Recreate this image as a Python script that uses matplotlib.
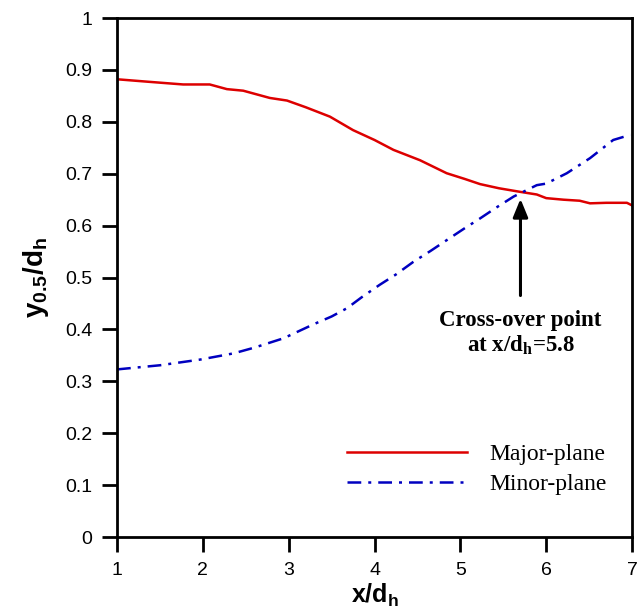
import matplotlib
matplotlib.use("Agg")
import matplotlib.pyplot as plt

major_x = [1.0, 1.38, 1.77, 2.08, 2.28, 2.47, 2.78, 2.98, 3.2, 3.48, 3.75, 4.0, 4.22,
           4.53, 4.84, 5.05, 5.23, 5.45, 5.70, 5.89, 6.0, 6.2, 6.39, 6.51, 6.7, 6.94, 7.0]
major_y = [0.882, 0.877, 0.872, 0.872, 0.863, 0.860, 0.846, 0.841, 0.828, 0.810, 0.784, 0.765, 0.746,
           0.726, 0.701, 0.690, 0.680, 0.672, 0.665, 0.660, 0.653, 0.650, 0.648, 0.643, 0.644, 0.644, 0.639]

minor_x = [1.0, 1.50, 1.97, 2.36, 2.6, 2.94, 3.29, 3.50, 3.68, 3.85, 4.06, 4.25, 4.45, 4.65,
           4.84, 5.05, 5.23, 5.42, 5.62, 5.73, 5.89, 6.0, 6.24, 6.51, 6.78, 6.98]
minor_y = [0.323, 0.331, 0.342, 0.354, 0.365, 0.383, 0.410, 0.425, 0.441, 0.462, 0.486, 0.506, 0.530, 0.551,
           0.572, 0.595, 0.614, 0.635, 0.656, 0.665, 0.678, 0.681, 0.701, 0.730, 0.765, 0.775]

x_ticks = [1, 2, 3, 4, 5, 6, 7]
y_ticks = [0, 0.1, 0.2, 0.3, 0.4, 0.5, 0.6, 0.7, 0.8, 0.9, 1]
y_tick_labels = ["0", "0.1", "0.2", "0.3", "0.4", "0.5", "0.6", "0.7", "0.8", "0.9", "1"]

fig = plt.figure(figsize=(6.43, 6.11), dpi=100)
ax = fig.add_axes([0.182, 0.121, 0.801, 0.8495])

ax.plot(major_x, major_y, color="#dd0000", lw=1.8, label="Major-plane")
ax.plot(minor_x, minor_y, color="#0000c0", lw=1.8, linestyle=(0, (5.5, 2.8, 1.2, 2.8)),
        label="Minor-plane")

ax.set_xlim(1, 7)
ax.set_ylim(0, 1)
ax.set_xticks(x_ticks)
ax.set_yticks(y_ticks)
ax.set_yticklabels(y_tick_labels)
for lab in ax.get_xticklabels() + ax.get_yticklabels():
    lab.set_fontfamily("Liberation Sans")
    lab.set_fontsize(14)
ax.tick_params(direction="out", length=11, width=2, pad=7, top=False, right=False)
for s in ax.spines.values():
    s.set_linewidth(2)

ax.set_xlabel(r"x/d$_\mathregular{h}$", fontsize=18, fontweight="bold",
              fontfamily="Liberation Sans", labelpad=2)
ax.set_ylabel(r"y$_\mathregular{0.5}$/d$_\mathregular{h}$", fontsize=20, fontweight="bold",
              fontfamily="Liberation Sans", labelpad=10)

ax.annotate("", xy=(5.70, 0.657), xytext=(5.70, 0.46),
            arrowprops=dict(arrowstyle="-|>,head_length=1.1,head_width=0.45",
                            color="black", lw=2.2))
ax.text(5.70, 0.392, "Cross-over point\n" + r"at x/d$_\mathregular{h}$=5.8",
        ha="center", va="center", fontsize=16.5, fontweight="bold",
        fontfamily="Liberation Serif", linespacing=1.15)

leg = ax.legend(loc="center left", bbox_to_anchor=(0.4466, 0.131), frameon=False,
                prop=dict(family="Liberation Serif", size=17), handlelength=5.1,
                handletextpad=0.93, labelspacing=0.36, borderpad=0, borderaxespad=0)

fig.savefig("out.png", dpi=100)
